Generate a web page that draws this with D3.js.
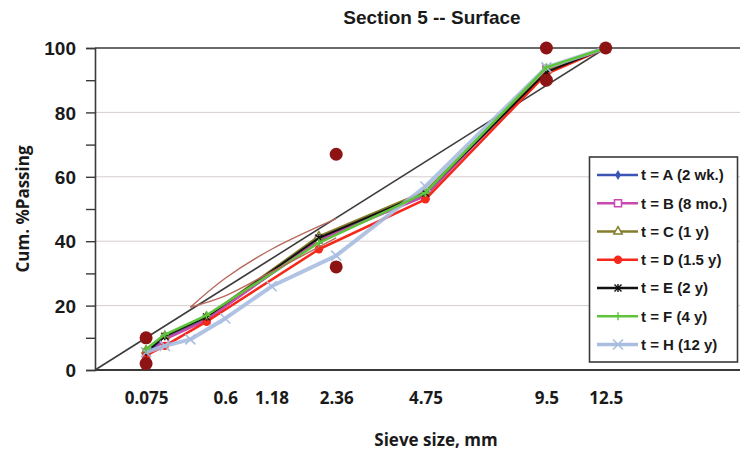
<!DOCTYPE html>
<html><head><meta charset="utf-8">
<script src="https://cdn.jsdelivr.net/npm/d3@7"></script>
<style>
html,body{margin:0;padding:0;background:#fff;}
svg{display:block;}
.cond{font-family:"Liberation Sans Narrow","Arial Narrow","Liberation Sans",Arial,sans-serif;font-weight:bold;}
.sans{font-family:"Open Sans","Liberation Sans",Arial,sans-serif;font-weight:700;}
</style></head>
<body>
<svg id="chart" width="740" height="455"></svg>
<script>
// ---- data ----
const title = "Section 5 -- Surface";
const xTitle = "Sieve size, mm";
const yTitle = "Cum. %Passing";
const xTickLabels = [0.075, 0.6, 1.18, 2.36, 4.75, 9.5, 12.5];
const yTicks = [0, 10, 20, 30, 40, 50, 60, 70, 80, 90, 100];
const yTickLabels = [0, 20, 40, 60, 80, 100];

const sievesAF = [0.075, 0.15, 0.425, 2.0, 4.75, 9.5, 12.5];
const sievesH = [0.075, 0.15, 0.3, 0.6, 1.18, 2.36, 4.75, 9.5, 12.5];

const seriesNames = ["t = A (2 wk.)", "t = B (8 mo.)", "t = C (1 y)", "t = D (1.5 y)", "t = E (2 y)", "t = F (4 y)", "t = H (12 y)"];
const valuesA = [5, 10, 16, 40, 54.5, 93, 100];
const valuesB = [4, 9.5, 15.5, 40.5, 54, 93.5, 100];
const valuesC = [6, 10.5, 16.5, 41.5, 55.5, 93, 100];
const valuesD = [4.5, 7.5, 15, 37.5, 53, 92, 100];
const valuesE = [5.5, 10.5, 16.5, 41, 55, 92.5, 100];
const valuesF = [6.5, 11, 17, 39.5, 55, 94, 100];
const valuesH = [5.5, 7.5, 9.5, 16, 26, 35.5, 57, 94, 100];

const maxDensitySieves = [0, 12.5];
const maxDensityValues = [0, 100];

const rzSieves = [0.3, 0.6, 1.18, 2.36];
const rzUpper = [19.5, 28.5, 37.5, 47];
const rzLower = [19.5, 23, 30.5, 41];

const controlSieves = [0.075, 0.075, 2.36, 2.36, 9.5, 9.5, 12.5];
const controlValues = [2, 10, 32, 67, 90, 100, 100];

// ---- styles ----
const colors = ["#3a55b4", "#c848b0", "#857c2c", "#f5291b", "#111111", "#5fc43c", "#a9bde0"];
const widths = [2.5, 2.5, 2.5, 2.5, 2, 2.5, 4];
const markers = ["diamond", "square", "triangle", "circle", "star", "plus", "x"];

const svg = d3.select("#chart");
const x = d3.scalePow().exponent(0.45).domain([0, 21]).range([95, 740]);
const y = d3.scaleLinear().domain([0, 100]).range([370, 48]);

// gridlines
svg.append("g").selectAll("line").data([20, 40, 60, 80]).join("line")
  .attr("x1", x(0)).attr("x2", 740).attr("y1", d => y(d)).attr("y2", d => y(d))
  .attr("stroke", "#d6cccc").attr("stroke-width", 1);
// top line at 100
svg.append("line").attr("x1", x(0)).attr("x2", 740).attr("y1", y(100)).attr("y2", y(100))
  .attr("stroke", "#3a3a3a").attr("stroke-width", 1.6);

// y axis
const yAxis = d3.axisLeft(y).tickValues(yTicks).tickSize(9).tickFormat(d => yTickLabels.includes(d) ? d : "");
const gy = svg.append("g").attr("transform", `translate(${x(0)},0)`).call(yAxis);
gy.select(".domain").attr("stroke", "#3a3a3a").attr("stroke-width", 1.6);
gy.selectAll(".tick line").attr("stroke", "#3a3a3a").attr("stroke-width", 1.4);
gy.selectAll(".tick text").attr("class", "cond").attr("font-size", 19).attr("fill", "#1a1a1a").attr("x", -19).attr("dy", "0.35em");

// x axis (bottom line, labels only)
const xAxis = d3.axisBottom(x).tickValues(xTickLabels).tickSize(0).tickFormat(d => d);
const gx = svg.append("g").attr("transform", `translate(0,${y(0)})`).call(xAxis);
gx.select(".domain").attr("d", `M${x(0)},0H740`).attr("stroke", "#3a3a3a").attr("stroke-width", 1.8);
gx.selectAll(".tick text").attr("class", "sans").attr("font-size", 17).attr("fill", "#1a1a1a").attr("y", 22).attr("dy", "0.71em");

const smooth = d3.line().x(d => x(d[0])).y(d => y(d[1])).curve(d3.curveCatmullRom.alpha(0.5));
const straight = d3.line().x(d => x(d[0])).y(d => y(d[1]));

// max density line
svg.append("path").attr("d", straight(maxDensitySieves.map((s, i) => [s, maxDensityValues[i]])))
  .attr("fill", "none").attr("stroke", "#3c3c3c").attr("stroke-width", 1.6);

// marker drawer
function drawMarker(g, type, cx, cy, color) {
  if (type === "diamond") {
    g.append("path").attr("d", d3.symbol(d3.symbolDiamond, 30)()).attr("transform", `translate(${cx},${cy})`).attr("fill", color);
  } else if (type === "square") {
    g.append("rect").attr("x", cx - 3.5).attr("y", cy - 3.5).attr("width", 7).attr("height", 7).attr("fill", "#fff").attr("stroke", color).attr("stroke-width", 1.5);
  } else if (type === "triangle") {
    g.append("path").attr("d", d3.symbol(d3.symbolTriangle, 30)()).attr("transform", `translate(${cx},${cy})`).attr("fill", "#fff").attr("stroke", color).attr("stroke-width", 1.5);
  } else if (type === "circle") {
    g.append("circle").attr("cx", cx).attr("cy", cy).attr("r", 4.2).attr("fill", color);
  } else if (type === "star") {
    g.append("path").attr("d", `M${cx-3.5},${cy-3.5}L${cx+3.5},${cy+3.5}M${cx-3.5},${cy+3.5}L${cx+3.5},${cy-3.5}M${cx},${cy-4}L${cx},${cy+4}`).attr("stroke", color).attr("stroke-width", 1.4);
  } else if (type === "plus") {
    g.append("path").attr("d", `M${cx-4},${cy}L${cx+4},${cy}M${cx},${cy-4}L${cx},${cy+4}`).attr("stroke", color).attr("stroke-width", 1.5);
  } else if (type === "x") {
    g.append("path").attr("d", `M${cx-5},${cy-5}L${cx+5},${cy+5}M${cx-5},${cy+5}L${cx+5},${cy-5}`).attr("stroke", color).attr("stroke-width", 1.6);
  }
}

// series
const seriesData = [valuesA, valuesB, valuesC, valuesD, valuesE, valuesF, valuesH];
const seriesSieves = [sievesAF, sievesAF, sievesAF, sievesAF, sievesAF, sievesAF, sievesH];
const drawOrder = [0, 1, 2, 3, 4, 6, 5];
drawOrder.forEach(i => {
  const pts = seriesSieves[i].map((s, j) => [s, seriesData[i][j]]);
  const g = svg.append("g");
  g.append("path").attr("d", straight(pts)).attr("fill", "none")
    .attr("stroke", colors[i]).attr("stroke-width", widths[i]).attr("stroke-linejoin", "round")
    .attr("opacity", i === 6 ? 0.9 : 1);
  pts.forEach(p => drawMarker(g, markers[i], x(p[0]), y(p[1]), colors[i]));
});

// restricted zone (on top of series)
[rzUpper, rzLower].forEach(vals => {
  svg.append("path").attr("d", smooth(rzSieves.map((s, i) => [s, vals[i]])))
    .attr("fill", "none").attr("stroke", "#b8685c").attr("stroke-width", 1.4);
});

// control points
svg.append("g").selectAll("circle").data(controlSieves.map((s, i) => [s, controlValues[i]])).join("circle")
  .attr("cx", d => x(d[0])).attr("cy", d => y(d[1])).attr("r", 6.5).attr("fill", "#8e1414");

// legend
const lg = svg.append("g");
lg.append("rect").attr("x", 589.5).attr("y", 157).attr("width", 148).attr("height", 205)
  .attr("fill", "#fff").attr("stroke", "#3a3a3a").attr("stroke-width", 1.6);
seriesNames.forEach((name, i) => {
  const ly = 175 + i * 28.25;
  lg.append("line").attr("x1", 597).attr("x2", 638).attr("y1", ly).attr("y2", ly)
    .attr("stroke", colors[i]).attr("stroke-width", i === 6 ? 3.5 : 2.5);
  drawMarker(lg, markers[i], 618, ly, colors[i]);
  lg.append("text").attr("class", "cond").attr("x", 641).attr("y", ly).attr("dy", "0.35em")
    .attr("font-size", 15).attr("fill", "#1a1a1a").text(name);
});

// titles
svg.append("text").attr("class", "cond").attr("x", 432).attr("y", 24).attr("text-anchor", "middle")
  .attr("font-size", 19).attr("fill", "#1a1a1a").text(title);
svg.append("text").attr("class", "sans").attr("x", 436).attr("y", 446).attr("text-anchor", "middle")
  .attr("font-size", 17).attr("fill", "#1a1a1a").text(xTitle);
svg.append("text").attr("class", "sans").attr("transform", "translate(29,209) rotate(-90)").attr("text-anchor", "middle")
  .attr("font-size", 17).attr("fill", "#1a1a1a").text(yTitle);
</script>
</body></html>
